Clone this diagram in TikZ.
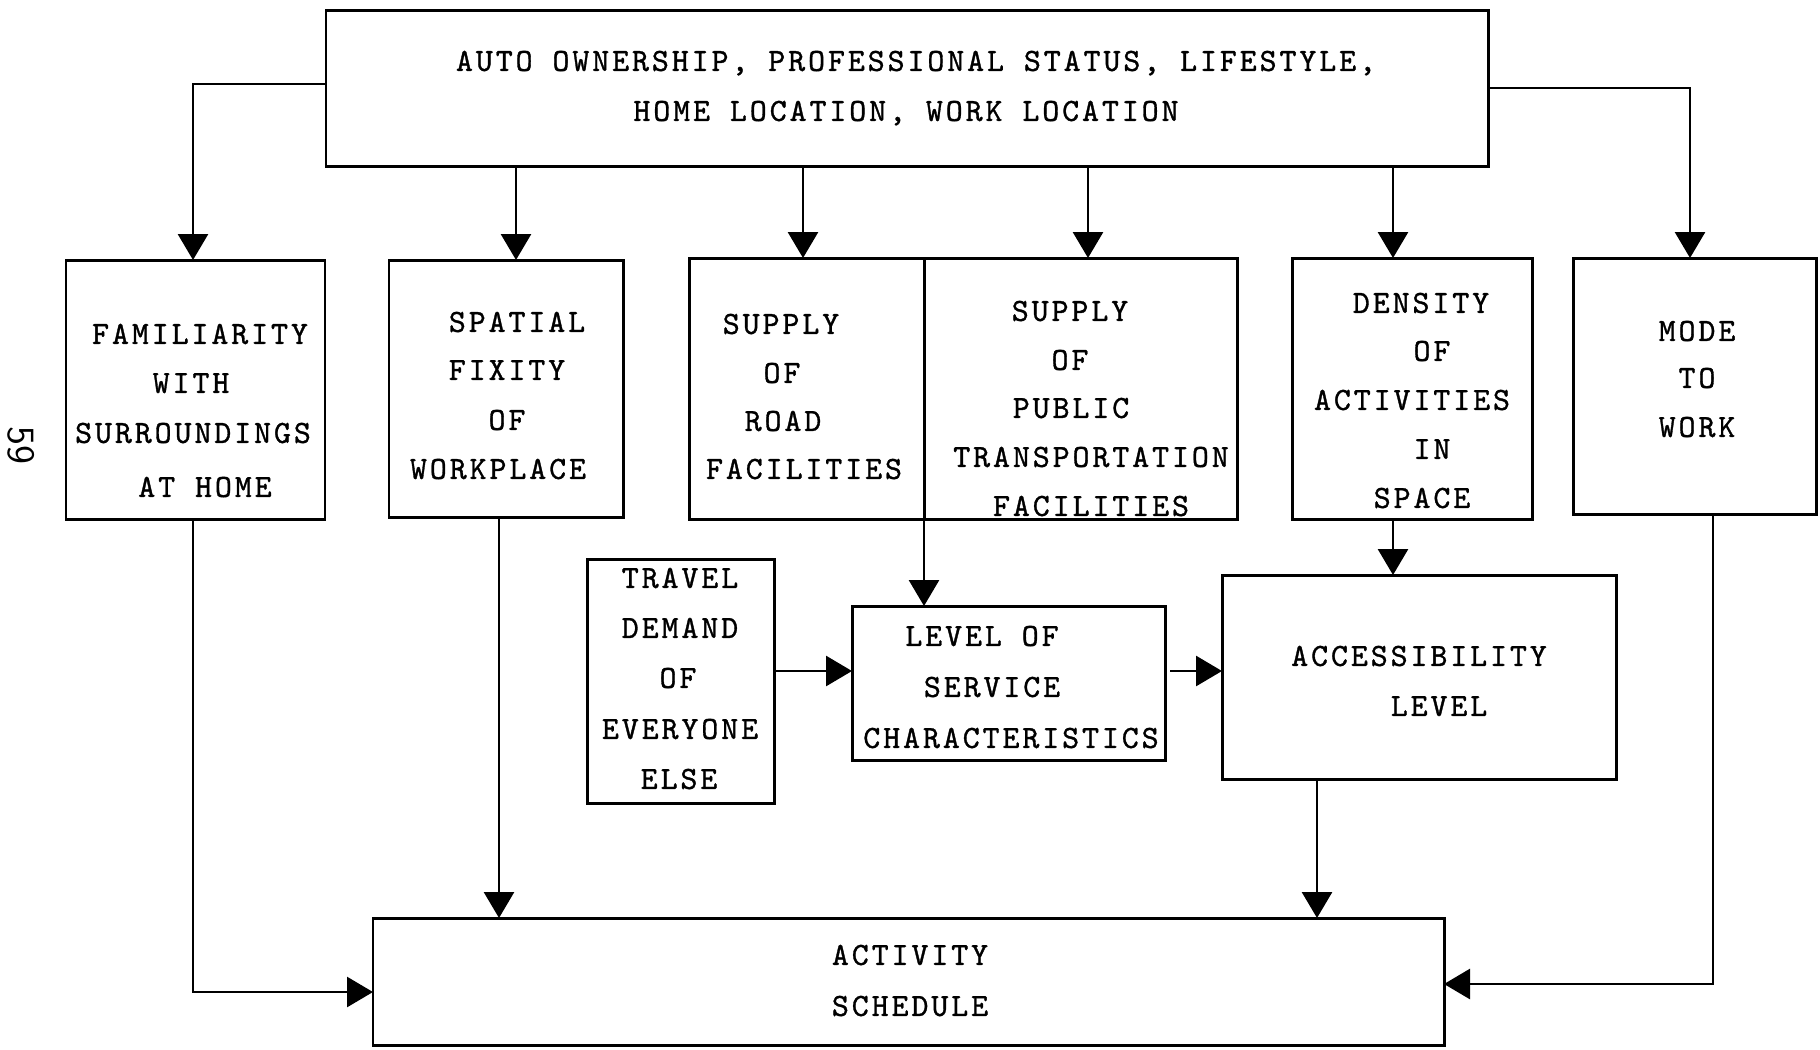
\documentclass[tikz,border=0pt]{standalone}
\usepackage{fontspec}
\newfontfamily\typewriter{lmmono10-regular.otf}[LetterSpace=9, FakeBold=1]
\usetikzlibrary{arrows.meta,fit}

\begin{document}
\begin{tikzpicture}[x=0.1mm, y=-0.1mm,
  box/.style={draw, line width=0.85pt, inner sep=0pt, outer sep=0pt},
  lbl/.style={font=\typewriter\fontsize{9.2}{11}\selectfont, inner sep=0pt,
              text height=1.98mm, text depth=0pt, anchor=center},
  conn/.style={line width=0.8pt},
  arr/.style={conn, -{Triangle[width=3mm,length=2.6mm]}},
]
% page frame
\fill[white] (0,0) rectangle (1820,1049);
\useasboundingbox (0,0) rectangle (1820,1049);

% page number, printed sideways
\node[font=\sffamily\fontsize{11}{12}\selectfont, rotate=-90, inner sep=0pt] (pg) at (21,445) {59};

% ---------- top box ----------
\node[box, fit={(326,10) (1488,166)}] (top) {};
\node[lbl] (t1) at (916,61) {AUTO OWNERSHIP, PROFESSIONAL STATUS, LIFESTYLE,};
\node[lbl] (t2) at (906,111) {HOME LOCATION, WORK LOCATION};

% ---------- second row ----------
\node[box, fit={(66,260) (325,519)}] (fam) {};
\node[lbl] (fam1) at (200,334) {FAMILIARITY};
\node[lbl] (fam2) at (191,383) {WITH};
\node[lbl] (fam3) at (193,433) {SURROUNDINGS};
\node[lbl] (fam4) at (205,487) {AT HOME};

\node[box, fit={(389,260) (623,517)}] (fix) {};
\node[lbl] (fix1) at (517,322) {SPATIAL};
\node[lbl] (fix2) at (507,370) {FIXITY};
\node[lbl] (fix3) at (507,420) {OF};
\node[lbl] (fix4) at (498,469) {WORKPLACE};

\node[box, fit={(689,258) (924,519)}] (road) {};
\node[lbl] (road1) at (781,324) {SUPPLY};
\node[lbl] (road2) at (782,373) {OF};
\node[lbl] (road3) at (783,421) {ROAD};
\node[lbl] (road4) at (804,469) {FACILITIES};

\node[box, fit={(924,258) (1237,519)}] (pub) {};
\node[lbl] (pub1) at (1070,311) {SUPPLY};
\node[lbl] (pub2) at (1070,360) {OF};
\node[lbl] (pub3) at (1071,408) {PUBLIC};
\node[lbl] (pub4) at (1091,457) {TRANSPORTATION};
\node[lbl] (pub5) at (1091,506) {FACILITIES};

\node[box, fit={(1292,258) (1532,519)}] (dens) {};
\node[lbl] (dens1) at (1421,303) {DENSITY};
\node[lbl] (dens2) at (1432,351) {OF};
\node[lbl] (dens3) at (1412,400) {ACTIVITIES};
\node[lbl] (dens4) at (1432,449) {IN};
\node[lbl] (dens5) at (1422,498) {SPACE};

\node[box, fit={(1573,258) (1816,514)}] (mode) {};
\node[lbl] (mode1) at (1697,331) {MODE};
\node[lbl] (mode2) at (1697,378) {TO};
\node[lbl] (mode3) at (1697,427) {WORK};

% ---------- third row ----------
\node[box, fit={(587,559) (774,803)}] (tde) {};
\node[lbl] (tde1) at (680,578) {TRAVEL};
\node[lbl] (tde2) at (680,628) {DEMAND};
\node[lbl] (tde3) at (678,678) {OF};
\node[lbl] (tde4) at (680,729) {EVERYONE};
\node[lbl] (tde5) at (679,779) {ELSE};

\node[box, fit={(852,606) (1165,760)}] (los) {};
\node[lbl] (los1) at (982,636) {LEVEL OF};
\node[lbl] (los2) at (992,687) {SERVICE};
\node[lbl] (los3) at (1011,738) {CHARACTERISTICS};

\node[box, fit={(1222,575) (1616,779)}] (acc) {};
\node[lbl] (acc1) at (1419,656) {ACCESSIBILITY};
\node[lbl] (acc2) at (1439,706) {LEVEL};

% ---------- bottom box ----------
\node[box, fit={(373,918) (1444,1045)}] (sched) {};
\node[lbl] (sch1) at (910,955) {ACTIVITY};
\node[lbl] (sch2) at (910,1006) {SCHEDULE};

% ---------- routing points ----------
\coordinate (jl) at (193,84);
\coordinate (jr) at (1690,88);
\coordinate (xa) at (516,0);
\coordinate (xb) at (803,0);
\coordinate (xc) at (1088,0);
\coordinate (xd) at (1393,0);
\coordinate (ym) at (0,671);
\coordinate (yl) at (0,992);
\coordinate (xf) at (499,0);
\coordinate (xg) at (1317,0);
\coordinate (cm) at (1713,984);

% ---------- connectors ----------
\draw[arr] (top.west |- jl) -| (jl |- fam.north);
\draw[arr] (top.east |- jr) -| (jr |- mode.north);
\draw[arr] (xa |- top.south) -- (xa |- fix.north);
\draw[arr] (xb |- top.south) -- (xb |- road.north);
\draw[arr] (xc |- top.south) -- (xc |- pub.north);
\draw[arr] (xd |- top.south) -- (xd |- dens.north);

\draw[arr] (road.south east) -- (road.south east |- los.north);
\draw[arr] (tde.east |- ym) -- (los.west |- ym);
\draw[arr] ([xshift=0.5mm]los.east |- ym) -- (acc.west |- ym);
\draw[arr] (xd |- dens.south) -- (xd |- acc.north);

\draw[arr] (jl |- fam.south) |- (sched.west |- yl);
\draw[arr] (xf |- fix.south) -- (xf |- sched.north);
\draw[arr] (xg |- acc.south) -- (xg |- sched.north);
\draw[arr] (cm |- mode.south) |- (sched.east |- cm);
\end{tikzpicture}
\end{document}
